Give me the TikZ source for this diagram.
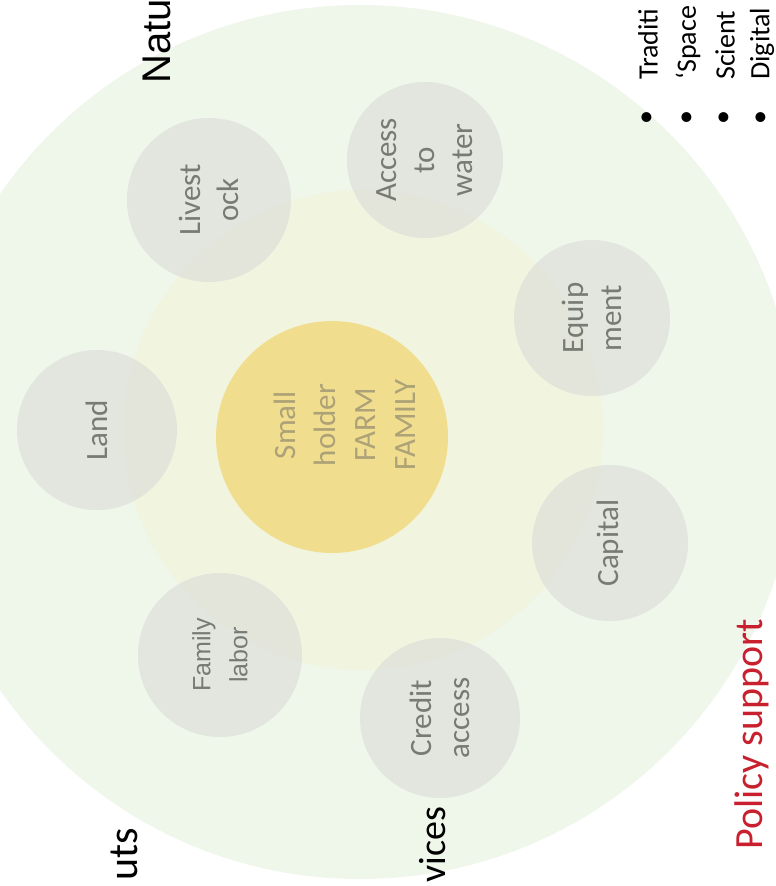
\documentclass[tikz,border=0pt]{standalone}
\usepackage{fontspec}
\setmainfont{Carlito}
\newfontfamily\arialf{Liberation Sans}
\definecolor{outerg}{HTML}{EFF6EA}
\definecolor{innery}{HTML}{F1F5E0}
\definecolor{goldc}{HTML}{F0DD8E}
\definecolor{bubblec}{HTML}{D8D9D6}
\definecolor{bubtext}{HTML}{767B73}
\definecolor{centertext}{HTML}{ADA277}
\definecolor{policyred}{HTML}{C8202E}
\begin{document}
\begin{tikzpicture}[x=1pt,y=-1pt,
  bubble/.style={circle, fill=bubblec, fill opacity=0.55, text opacity=1, inner sep=0pt,
     minimum size=160pt, rotate=90, text=bubtext, align=center,
     font=\fontsize{31}{38}\selectfont},
  lbl/.style={rotate=90, inner sep=0pt, align=center},
  outer/.style={lbl, text=black, font=\fontsize{42}{46}\selectfont},
  bul/.style={lbl, text=black, font=\fontsize{28}{30}\selectfont}
]
\useasboundingbox (0,0) rectangle (776,886);
\clip (0,0) rectangle (776,886);
\fill[white] (0,0) rectangle (776,886);
\fill[outerg] (360,442) circle[radius=437pt];
\fill[innery] (363,430) circle[radius=240pt];
\node[circle, fill=goldc, minimum size=232pt, inner sep=0pt] (farm) at (332,437) {};
\node[lbl, text=centertext, font=\fontsize{31}{40}\selectfont] (farmtext) at (345,425) {Small\\holder\\FARM\\FAMILY};

\node[bubble] (land) at (97,430) {Land};
\node[bubble, minimum size=164pt] (livestock) at (209,200) {Livest\\ock};
\node[bubble, minimum size=156pt] (water) at (425,160) {Access\\to\\water};
\node[bubble, minimum size=156pt] (equip) at (592,318) {Equip\\ment};
\node[bubble, minimum size=156pt] (capital) at (610,543) {Capital};
\node[bubble] (credit) at (440,718) {Credit\\access};
\node[bubble, minimum size=164pt, font=\arialf\fontsize{25}{37}\selectfont] (labor) at (220,655) {Family\\labor};

\node[outer, anchor=west, font=\arialf\fontsize{40}{44}\selectfont] (natu) at (157,84) {Natu};
\node[outer, anchor=east] (uts) at (124,828) {uts};
\node[outer, anchor=west, font=\fontsize{38}{42}\selectfont] (vices) at (433,883) {vices};
\node[lbl, anchor=west, text=policyred, font=\fontsize{40}{44}\selectfont] (policy) at (752,850) {Policy support};

\node[bul, anchor=west] (l1) at (648,80) {Traditi};
\node[bul, anchor=west] (l2) at (688,80) {‘Space};
\node[bul, anchor=west] (l3) at (725,80) {Scient};
\node[bul, anchor=west] (l4) at (762,80) {Digital};
\node[bul] (b1) at (648,118) {•};
\node[bul] (b2) at (688,118) {•};
\node[bul] (b3) at (725,118) {•};
\node[bul] (b4) at (762,118) {•};
\end{tikzpicture}
\end{document}
